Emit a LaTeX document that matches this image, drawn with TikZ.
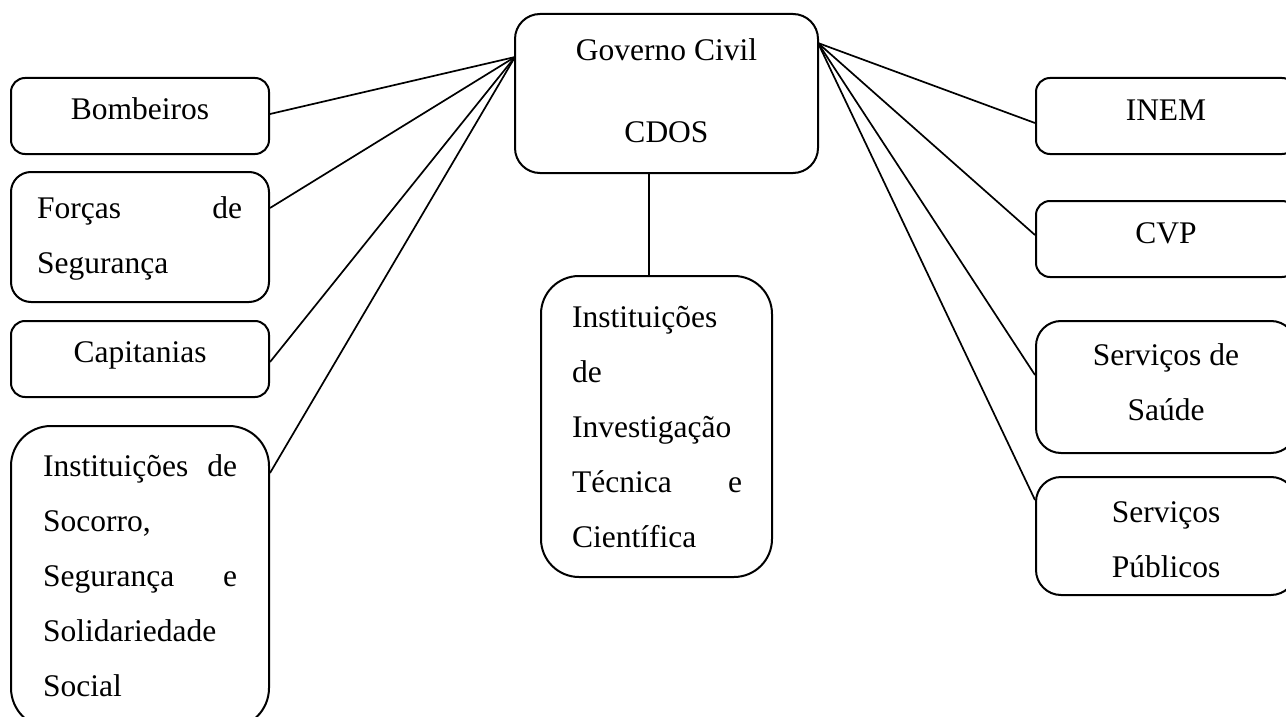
\documentclass[tikz,border=0pt]{standalone}
\usepackage{fontspec}
\setmainfont{Liberation Serif}
\newcommand{\jline}[2]{\makebox[#1][s]{#2}}
\begin{document}
\begin{tikzpicture}[x=1pt,y=-1pt,
  box/.style={draw,line width=2pt,inner sep=0pt},
  conn/.style={line width=1.7pt},
  lbl/.style={inner sep=0pt,anchor=base,font=\fontsize{31.5}{55}\selectfont},
  lblw/.style={inner sep=0pt,anchor=base west,font=\fontsize{31.5}{55}\selectfont}]
\useasboundingbox (0,0) rectangle (1286,717);
\clip (0,0) rectangle (1286,717);
\fill[white] (0,0) rectangle (1286,717);
% boxes
\node[box,rounded corners=25pt,minimum width=303pt,minimum height=159pt] (gov) at (666.5,93.5) {};
\node[box,rounded corners=14pt,minimum width=258pt,minimum height=76pt] (bomb) at (140,116) {};
\node[box,rounded corners=20pt,minimum width=258pt,minimum height=130pt] (forcas) at (140,237) {};
\node[box,rounded corners=14pt,minimum width=258pt,minimum height=76pt] (capit) at (140,359) {};
\node[box,rounded corners=40pt,minimum width=258pt,minimum height=302pt] (socorro) at (140,577) {};
\node[box,rounded corners=38pt,minimum width=231pt,minimum height=301pt] (invest) at (656.5,426.5) {};
\node[box,rounded corners=14pt,minimum width=260pt,minimum height=76pt] (inem) at (1166,116) {};
\node[box,rounded corners=14pt,minimum width=260pt,minimum height=76pt] (cvp) at (1166,239) {};
\node[box,rounded corners=25pt,minimum width=260pt,minimum height=132pt] (saude) at (1166,387) {};
\node[box,rounded corners=25pt,minimum width=260pt,minimum height=118pt] (publicos) at (1166,536) {};
% connector end points on the central box
\coordinate (govL) at (515,57);
\coordinate (govR) at (818,43);
% connectors
\draw[conn] (govL) -- ([yshift=2pt]bomb.east);
\draw[conn] (govL) -- ([yshift=29pt]forcas.east);
\draw[conn] (govL) -- ([yshift=-3pt]capit.east);
\draw[conn] (govL) -- ([yshift=104pt]socorro.east);
\draw[conn] (govR) -- ([yshift=-7pt]inem.west);
\draw[conn] (govR) -- ([yshift=4pt]cvp.west);
\draw[conn] (govR) -- ([yshift=12pt]saude.west);
\draw[conn] (govR) -- ([yshift=36pt]publicos.west);
\draw[conn] (gov.south -| 649,0) -- (invest.north -| 649,0);
% texts
\node[lbl] (tgov) at (666.5,61) {\parbox[t]{280pt}{\centering Governo Civil\\[27pt]CDOS}};
\node[lbl] (tbomb) at (140,120) {Bombeiros};
\node[lblw] (tforcas) at (37,218) {\parbox[t]{205pt}{\jline{205pt}{Forças de}\\Segurança}};
\node[lbl] (tcapit) at (140,362) {Capitanias};
\node[lblw] (tsocorro) at (43,476) {\parbox[t]{194pt}{\jline{194pt}{Instituições de}\\Socorro,\\\jline{194pt}{Segurança e}\\Solidariedade\\Social}};
\node[lblw] (tinvest) at (572,327) {\parbox[t]{170pt}{Instituições\\de\\Investigação\\\jline{170pt}{Técnica e}\\Científica}};
\node[lbl] (tinem) at (1166,121) {INEM};
\node[lbl] (tcvp) at (1166,243) {CVP};
\node[lbl] (tsaude) at (1166,365) {\parbox[t]{250pt}{\centering Serviços de\\Saúde}};
\node[lbl] (tpublicos) at (1166,522) {\parbox[t]{250pt}{\centering Serviços\\Públicos}};
\end{tikzpicture}
\end{document}
